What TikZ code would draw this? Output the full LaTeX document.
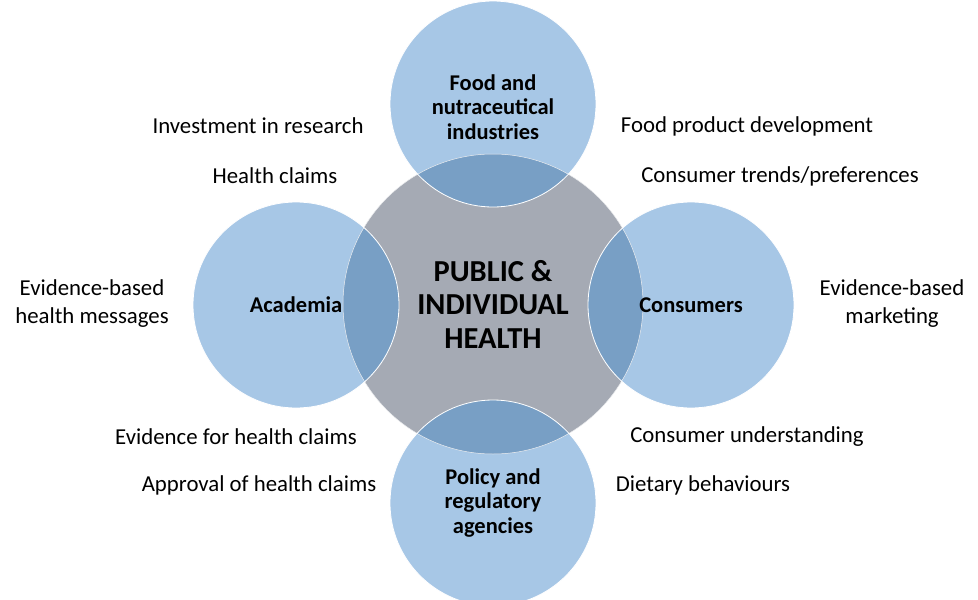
\documentclass[tikz,border=0pt]{standalone}
\usepackage{fontspec}
\setmainfont{Carlito}
\definecolor{hubgrey}{RGB}{165,170,180}
\definecolor{partnerblue}{RGB}{167,199,230}
\definecolor{overlapblue}{RGB}{120,159,197}

\begin{document}
\begin{tikzpicture}[x=1pt, y=-1pt,
    hub/.style={circle, fill=hubgrey, minimum size=300pt, inner sep=0pt},
    partner/.style={circle, fill=partnerblue, minimum size=206pt, inner sep=0pt},
    hubtext/.style={font=\fontsize{30.5}{33.5}\selectfont\bfseries, align=center},
    partnertext/.style={font=\fontsize{22.5}{24.5}\selectfont\bfseries, align=center},
    role/.style={font=\fontsize{22.8}{28}\selectfont, align=center}
]
\useasboundingbox (0,0) rectangle (978,600);

% circles
\node[hub] (health) at (493,304) {};
\node[partner] (industry) at (493,104) {};
\node[partner] (academia) at (296,305) {};
\node[partner] (consumers) at (691,305) {};
\node[partner] (policy) at (493,503) {};

% overlaps with the central circle
\begin{scope}
  \clip (health.center) circle (150pt);
  \foreach \c in {industry,academia,consumers,policy}
    \fill[overlapblue] (\c.center) circle (103pt);
\end{scope}
\draw[white!80!hubgrey, line width=0.5pt] (health.center) circle (150pt);
\foreach \c in {industry,academia,consumers,policy}
  \draw[white, line width=0.8pt] (\c.center) circle (103pt);

% circle texts
\node[hubtext] (healthlabel) at (health) {PUBLIC \&\\INDIVIDUAL\\HEALTH};
\node[partnertext] (industrylabel) at (493,107) {Food and\\nutraceutical\\industries};
\node[partnertext] (academialabel) at (296,305) {Academia};
\node[partnertext] (consumerslabel) at (691,305) {Consumers};
\node[partnertext] (policylabel) at (493,503) {Policy and\\regulatory\\agencies};

% roles
\node[role] (investment) at (258,126) {Investment in research};
\node[role] (claims) at (275,176) {Health claims};
\node[role] (development) at (747,126) {Food product development};
\node[role] (trends) at (780,176) {Consumer trends/preferences};
\node[role] (messages) at (92,304) {Evidence-based\\health messages};
\node[role] (marketing) at (892,304) {Evidence-based\\marketing};
\node[role] (evidence) at (236,437) {Evidence for health claims};
\node[role] (approval) at (259,485) {Approval of health claims};
\node[role] (understanding) at (747,437) {Consumer understanding};
\node[role] (dietary) at (703,485) {Dietary behaviours};

\end{tikzpicture}
\end{document}
